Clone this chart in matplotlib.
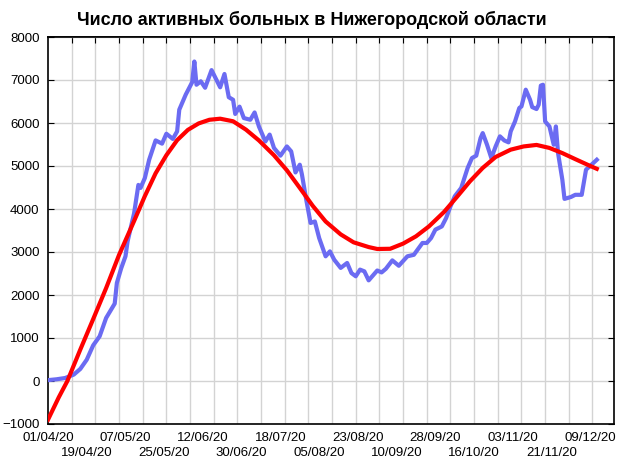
import datetime as dt
import numpy as np
import matplotlib
matplotlib.use("Agg")
import matplotlib.pyplot as plt
from matplotlib.ticker import FixedLocator, MultipleLocator, NullFormatter

plt.rcParams['font.family'] = ['Liberation Sans', 'DejaVu Sans']

START = dt.date(2020, 4, 1)

# active cases, day offset from 01/04/20
active_days = [0, 4, 8, 12, 15, 18, 21, 24, 27, 31, 32, 34, 36, 37, 40, 42, 43, 45,
               47, 50, 53, 55, 58, 60, 61, 64, 67, 68, 69, 71, 73, 76, 80, 82, 84,
               86, 87, 89, 91, 94, 96, 98, 101, 103, 105, 108, 111, 113, 115, 117,
               118, 120, 122, 124, 126, 129, 131, 133, 136, 139, 141, 143, 145, 147,
               149, 153, 155, 157, 160, 163, 167, 170, 174, 176, 178, 180, 183, 185,
               187, 189, 192, 195, 197, 199, 201, 202, 204, 206, 208, 210, 212, 214,
               215, 217, 219, 220, 222, 224, 225, 227, 228, 229, 230, 231, 233, 235,
               236, 237, 239, 240, 243, 245, 248, 250, 252, 255]
active_vals = [20, 40, 70, 150, 280, 495, 830, 1040, 1465, 1800, 2280, 2620, 2900, 3250,
               3900, 4560, 4490, 4720, 5145, 5595, 5520, 5750, 5630, 5805, 6310, 6660,
               6950, 7430, 6890, 6970, 6820, 7230, 6830, 7140, 6600, 6540, 6210, 6380,
               6115, 6075, 6245, 5920, 5570, 5730, 5420, 5240, 5455, 5340, 4850, 5030,
               4800, 4215, 3675, 3710, 3325, 2900, 3015, 2820, 2630, 2745, 2510, 2435,
               2590, 2550, 2340, 2570, 2525, 2610, 2805, 2680, 2900, 2935, 3210, 3210,
               3325, 3520, 3595, 3790, 4060, 4295, 4490, 4955, 5185, 5240, 5650, 5765,
               5495, 5185, 5455, 5690, 5595, 5550, 5805, 6035, 6350, 6385, 6775, 6540,
               6370, 6325, 6425, 6870, 6890, 6035, 5920, 5495, 5920, 5300, 4680, 4235,
               4280, 4330, 4330, 4915, 5005, 5145]

# trend line
trend_days = [0, 5, 9, 15, 21, 27, 33, 40, 45, 50, 55, 60, 65, 70, 75, 80, 86, 92, 98,
              105, 111, 117, 123, 129, 136, 142, 149, 153, 159, 165, 171, 177, 184,
              190, 196, 202, 208, 215, 221, 227, 233, 239, 245, 252, 255]
trend_vals = [-900, -380, 0, 730, 1440, 2160, 2930, 3720, 4300, 4830, 5250, 5600, 5840,
              5990, 6075, 6100, 6040, 5845, 5595, 5250, 4900, 4490, 4075, 3710, 3410,
              3225, 3115, 3070, 3075, 3195, 3365, 3595, 3930, 4280, 4640, 4955, 5210,
              5380, 5455, 5490, 5420, 5300, 5160, 5000, 4935]

label_days = list(range(0, 253, 18))
grid_days = list(range(11, 260, 11))


def day_label(d):
    return (START + dt.timedelta(days=d)).strftime('%d/%m/%y')


fig = plt.figure(figsize=(6.24, 4.68), dpi=100)
ax = fig.add_axes([48 / 624, 44 / 468, 566 / 624, 387 / 468])

ax.vlines(grid_days, -1000, 8000, color='#d3d3d3', lw=1.0, zorder=0)
ax.plot(active_days, active_vals, color='#6b6bf2', lw=3.0, solid_joinstyle='round', zorder=3)
ax.plot(trend_days, trend_vals, color='#ff0000', lw=3.0, zorder=4)

ax.set_xlim(0, 263)
ax.set_ylim(-1000, 8000)
ax.yaxis.set_major_locator(MultipleLocator(1000))
ax.grid(True, which='major', axis='y', color='#d3d3d3', lw=1.0, zorder=0)

# staggered date labels: upper row on major ticks, lower row on minor ticks
row1 = label_days[0::2]
row2 = label_days[1::2]
ax.xaxis.set_major_locator(FixedLocator(row1))
ax.set_xticklabels([day_label(d) for d in row1])
ax.xaxis.set_minor_locator(FixedLocator(row2))
ax.set_xticklabels([day_label(d) for d in row2], minor=True)
ax.tick_params(axis='x', which='major', length=0, pad=5.5, labelsize=9.5)
ax.tick_params(axis='x', which='minor', length=0, pad=16.5, labelsize=9.5)

top = ax.secondary_xaxis('top')
top.xaxis.set_major_locator(FixedLocator(grid_days))
top.xaxis.set_major_formatter(NullFormatter())
top.tick_params(direction='in', length=4)
top.spines['top'].set_linewidth(1.2)

ax.tick_params(axis='y', which='major', direction='in', length=4, right=True, left=True,
               labelsize=9.5, pad=6)
for sp in ax.spines.values():
    sp.set_linewidth(1.2)
    sp.set_color('black')

fig.text(0.5, 0.958, 'Число активных больных в Нижегородской области',
         ha='center', va='center', fontsize=13, fontweight='bold')

fig.savefig('out.png', dpi=100)
